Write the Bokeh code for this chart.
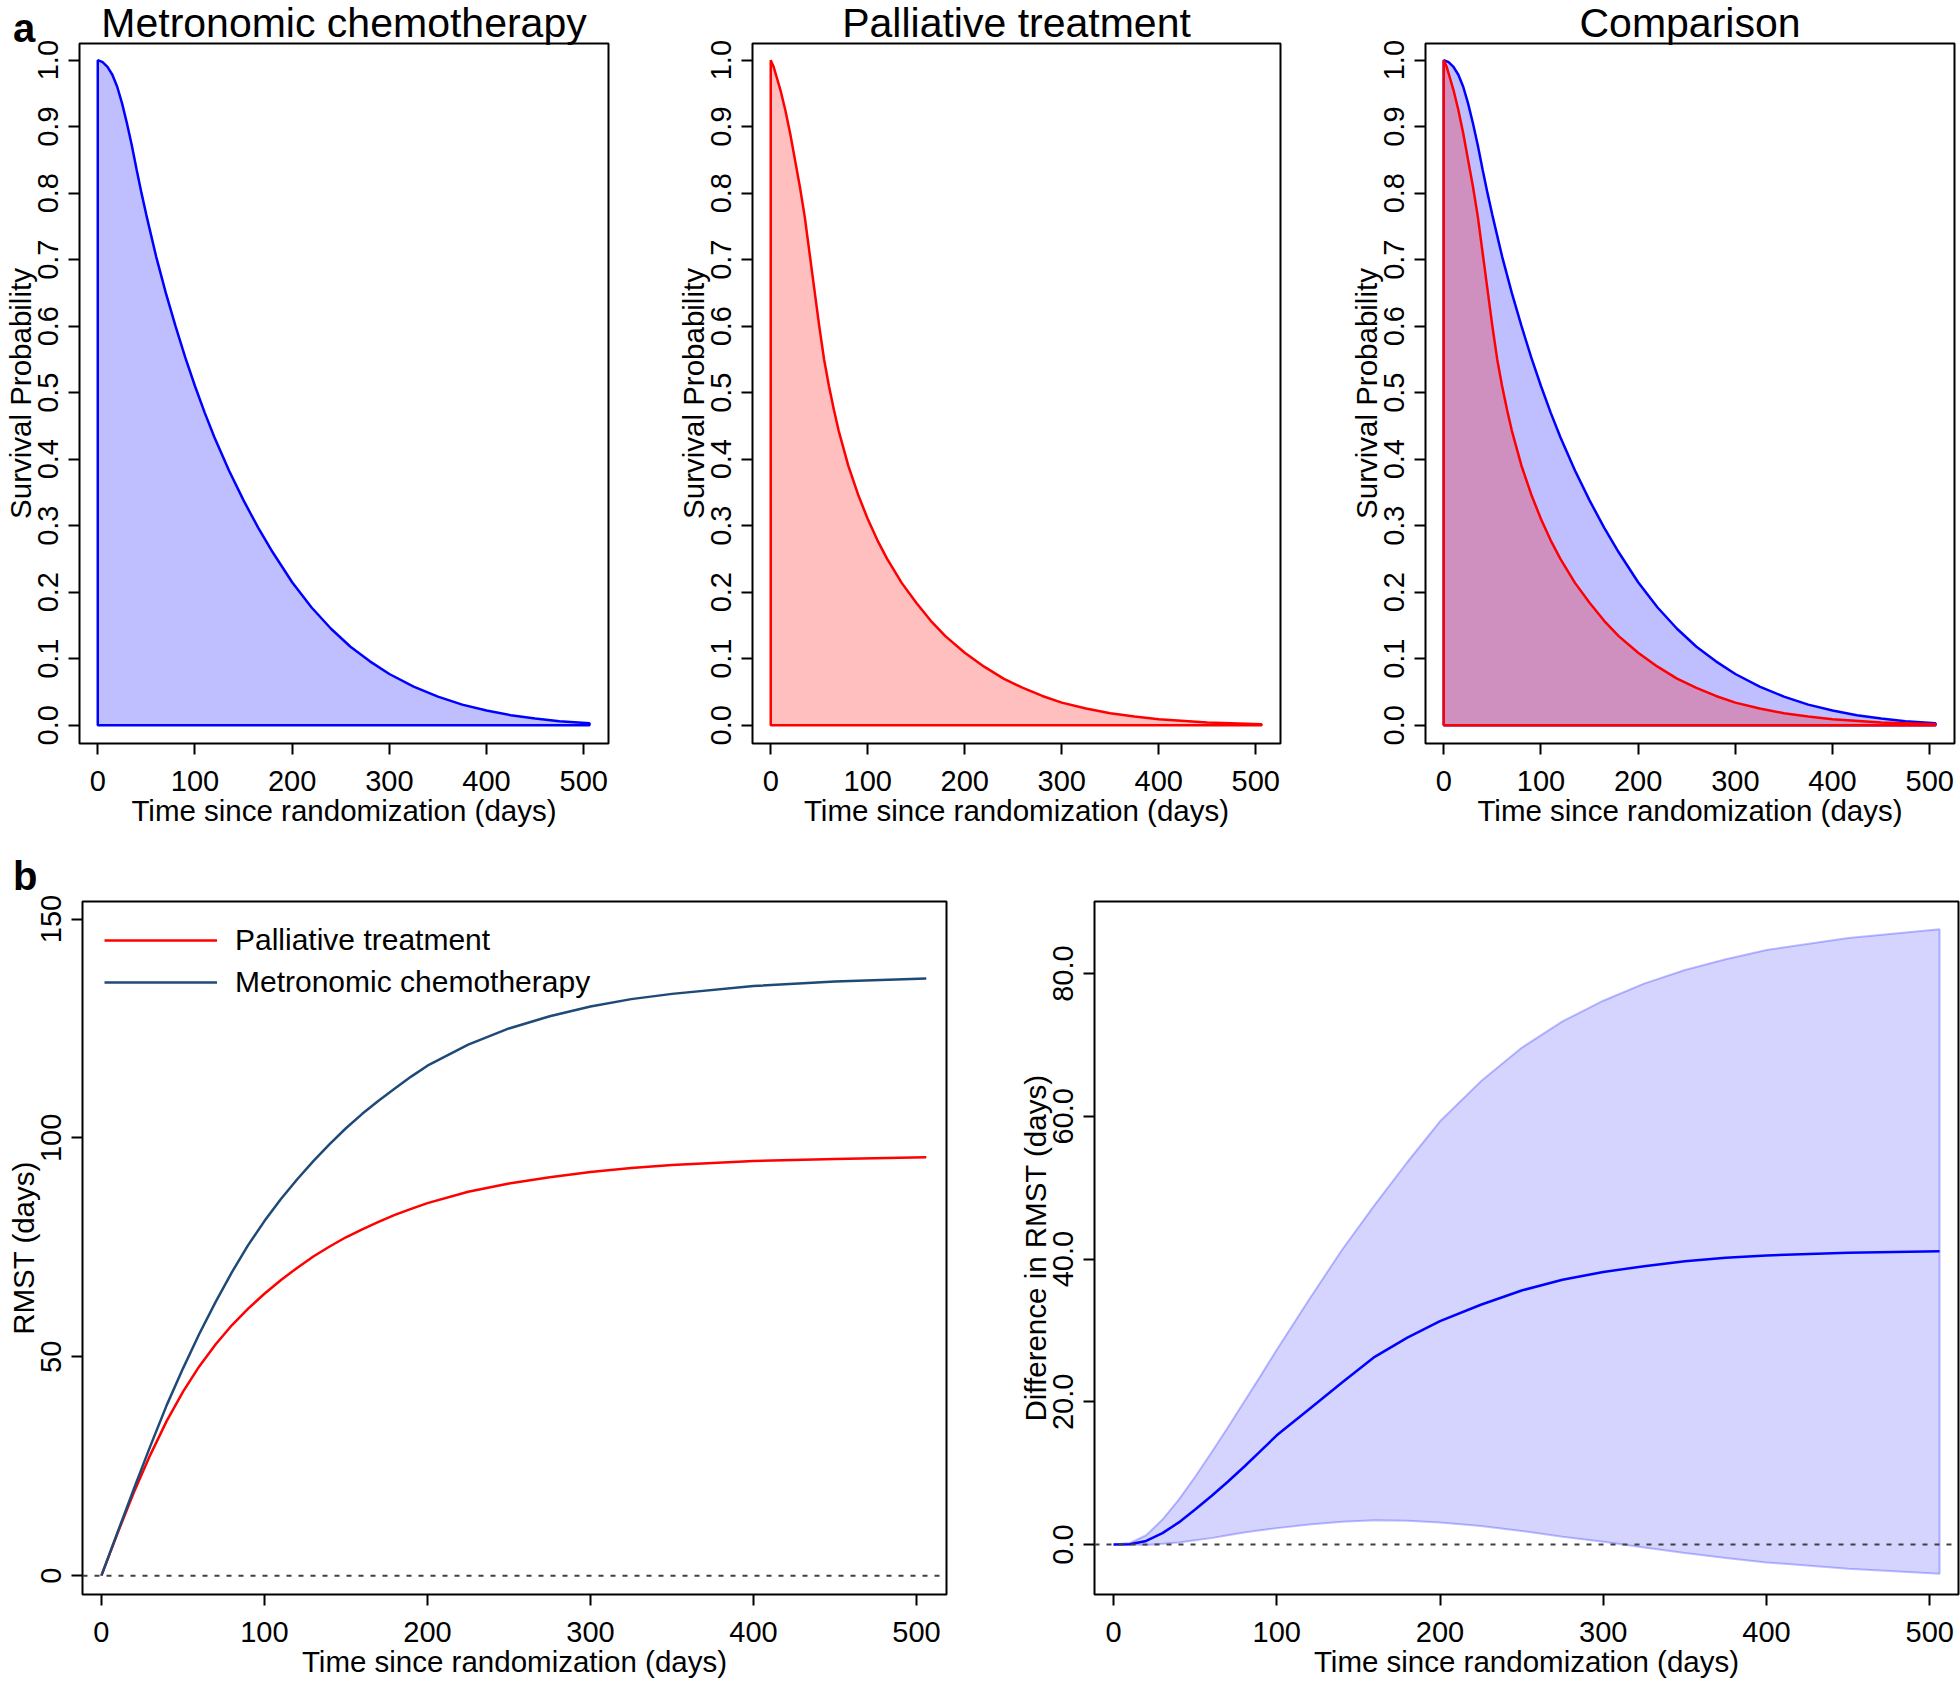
from bokeh.plotting import figure
from bokeh.layouts import column, row
from bokeh.models import (Range1d, FixedTicker, PrintfTickFormatter, Span, Div,
                          Legend, LegendItem)
from bokeh.embed import file_html
from bokeh.resources import INLINE

FONT = "Liberation Sans"
NAVY = "#1F4A78"

# ---------------- data ----------------
x_ticks = [0, 100, 200, 300, 400, 500]
surv_ticks = [0.0, 0.1, 0.2, 0.3, 0.4, 0.5, 0.6, 0.7, 0.8, 0.9, 1.0]
rmst_ticks = [0, 50, 100, 150]
diff_ticks = [0, 20, 40, 60, 80]

t_metro = [0, 5, 10, 15, 20, 25, 30, 35, 40, 45, 50, 60, 70, 80, 90, 100, 110, 120,
           135, 150, 165, 180, 200, 220, 240, 260, 280, 300, 325, 350, 375, 400,
           425, 450, 475, 506]
s_metro = [1.0, 0.997, 0.99, 0.978, 0.96, 0.935, 0.905, 0.872, 0.835, 0.80, 0.767,
           0.705, 0.65, 0.60, 0.553, 0.51, 0.47, 0.433, 0.383, 0.338, 0.297, 0.26,
           0.215, 0.177, 0.145, 0.118, 0.096, 0.077, 0.058, 0.043, 0.031, 0.022,
           0.015, 0.010, 0.006, 0.003]

t_pall = [0, 3, 6, 10, 15, 20, 25, 30, 35, 40, 45, 50, 55, 60, 65, 70, 80, 90, 100,
          110, 120, 135, 150, 165, 180, 200, 220, 240, 260, 280, 300, 325, 350, 375,
          400, 450, 506]
s_pall = [1.0, 0.99, 0.975, 0.955, 0.925, 0.89, 0.85, 0.81, 0.765, 0.71, 0.655, 0.60,
          0.55, 0.51, 0.475, 0.443, 0.39, 0.347, 0.31, 0.278, 0.25, 0.214, 0.184,
          0.157, 0.134, 0.109, 0.088, 0.07, 0.056, 0.044, 0.034, 0.025, 0.018, 0.013,
          0.009, 0.004, 0.0015]

t_rmst = [0, 10, 20, 30, 40, 50, 60, 70, 80, 90, 100, 110, 120, 130, 140, 150, 160,
          170, 180, 190, 200, 225, 250, 275, 300, 325, 350, 400, 450, 506]
rmst_pall = [0, 9.8, 19.1, 27.6, 35.3, 42.0, 47.8, 52.8, 57.2, 61.0, 64.4, 67.5, 70.3,
             72.9, 75.2, 77.3, 79.1, 80.8, 82.4, 83.8, 85.1, 87.7, 89.6, 91.0, 92.2,
             93.1, 93.8, 94.7, 95.2, 95.6]
rmst_metro = [0, 10.0, 19.9, 29.6, 38.9, 47.3, 55.2, 62.5, 69.3, 75.5, 81.0, 86.0,
              90.5, 94.7, 98.6, 102.2, 105.5, 108.5, 111.3, 114.0, 116.5, 121.3,
              125.0, 127.8, 130.0, 131.7, 132.9, 134.7, 135.7, 136.4]

t_diff = [0, 10, 20, 30, 40, 50, 60, 70, 80, 90, 100, 120, 140, 160, 180, 200, 225,
          250, 275, 300, 325, 350, 375, 400, 450, 506]
diff_mean = [0, 0.05, 0.5, 1.6, 3.1, 4.9, 6.8, 8.8, 10.9, 13.1, 15.3, 19.0, 22.7,
             26.3, 29.0, 31.3, 33.6, 35.6, 37.1, 38.2, 39.0, 39.7, 40.2, 40.5, 40.9,
             41.1]
diff_upper = [0, 0.2, 1.3, 3.5, 6.3, 9.5, 12.9, 16.4, 20.0, 23.6, 27.3, 34.4, 41.3,
              47.6, 53.6, 59.3, 64.9, 69.6, 73.3, 76.2, 78.6, 80.5, 82.0, 83.3, 85.0,
              86.2]
diff_lower = [0, 0, -0.05, 0.1, 0.3, 0.6, 0.9, 1.3, 1.7, 2.0, 2.3, 2.8, 3.2, 3.4, 3.35,
              3.1, 2.6, 1.9, 1.1, 0.4, -0.4, -1.2, -1.9, -2.5, -3.4, -4.1]


# ---------------- helpers ----------------
def style(p, xlabel, ylabel, yticks, yfmt):
    p.background_fill_color = "white"
    p.border_fill_color = "white"
    p.outline_line_color = "black"
    p.outline_line_width = 2
    p.outline_line_alpha = 1.0
    p.xgrid.visible = False
    p.ygrid.visible = False
    p.xaxis.ticker = FixedTicker(ticks=x_ticks)
    p.yaxis.ticker = FixedTicker(ticks=yticks)
    p.yaxis.formatter = PrintfTickFormatter(format=yfmt)
    for ax in p.axis:
        ax.axis_line_color = None
        ax.major_tick_out = 11
        ax.major_tick_in = 0
        ax.minor_tick_out = 0
        ax.minor_tick_in = 0
        ax.major_tick_line_width = 2
        ax.major_tick_line_color = "black"
        ax.major_label_text_font = FONT
        ax.major_label_text_font_size = "29px"
        ax.major_label_text_color = "black"
        ax.axis_label_text_font = FONT
        ax.axis_label_text_font_size = "29.5px"
        ax.axis_label_text_font_style = "normal"
        ax.axis_label_text_color = "black"
    p.xaxis.axis_label = xlabel
    p.yaxis.axis_label = ylabel
    p.yaxis.major_label_orientation = "vertical"
    p.xaxis.major_label_standoff = 16
    p.xaxis.axis_label_standoff = 0
    p.yaxis.major_label_standoff = 10
    p.yaxis.axis_label_standoff = -1


def set_title(p, text):
    p.title.text = text
    p.title.text_font = FONT
    p.title.text_font_size = "41px"
    p.title.text_font_style = "normal"
    p.title.text_color = "black"
    p.title.align = "center"
    p.title.standoff = -5


XLAB = "Time since randomization (days)"
SX = (-18.8, 525.5)
SY = (-0.0275, 1.025)


def surv_fig(width, left, right):
    p = figure(width=width, height=840,
               x_range=Range1d(*SX), y_range=Range1d(*SY),
               output_backend="svg", toolbar_location=None,
               min_border_left=left, min_border_right=right,
               min_border_top=43, min_border_bottom=97)
    style(p, XLAB, "Survival Probability", surv_ticks, "%.1f")
    return p


def panel_tag(text, top):
    return Div(text=text, width=40, height=46,
               styles={"position": "absolute", "left": "8px", "top": "%dpx" % top,
                       "font-family": FONT, "font-size": "40px",
                       "font-weight": "bold", "line-height": "40px",
                       "color": "black", "z-index": "10"})


# ---------------- panel a ----------------
p1 = surv_fig(640, 79, 32)
set_title(p1, "Metronomic chemotherapy")
p1.patch([0] + t_metro + [t_metro[-1]], [0] + s_metro + [0],
         fill_color="blue", fill_alpha=0.25, line_color="blue", line_width=2.5)

p2 = surv_fig(672, 112, 32)
set_title(p2, "Palliative treatment")
p2.patch([0] + t_pall + [t_pall[-1]], [0] + s_pall + [0],
         fill_color="red", fill_alpha=0.25, line_color="red", line_width=2.5)

p3 = surv_fig(648, 113, 6)
set_title(p3, "Comparison")
p3.patch([0] + t_metro + [t_metro[-1]], [0] + s_metro + [0],
         fill_color="blue", fill_alpha=0.25, line_color="blue", line_width=2.5)
p3.patch([0] + t_pall + [t_pall[-1]], [0] + s_pall + [0],
         fill_color="red", fill_alpha=0.25, line_color="red", line_width=2.5)

# ---------------- panel b ----------------
p4 = figure(width=990, height=841, x_range=Range1d(-11.6, 518.4),
            y_range=Range1d(-4.3, 154.0), output_backend="svg", toolbar_location=None,
            min_border_left=82, min_border_right=44, min_border_top=61,
            min_border_bottom=87)
style(p4, XLAB, "RMST (days)", rmst_ticks, "%d")
p4.add_layout(Span(location=0, dimension="width", line_color="#404040",
                   line_width=2, line_dash="5 7"))
r_pall = p4.line(t_rmst, rmst_pall, line_color="red", line_width=2.5)
r_metro = p4.line(t_rmst, rmst_metro, line_color=NAVY, line_width=2.5)
leg = Legend(items=[LegendItem(label="Palliative treatment", renderers=[r_pall]),
                    LegendItem(label="Metronomic chemotherapy", renderers=[r_metro])],
             location="top_left", border_line_color=None, background_fill_alpha=0,
             label_text_font=FONT, label_text_font_size="30px",
             label_text_color="black",
             glyph_width=113, glyph_height=34, label_height=34, spacing=8,
             padding=0, margin=22, label_standoff=18)
p4.add_layout(leg)

p5 = figure(width=970, height=841, x_range=Range1d(-11.65, 517.6),
            y_range=Range1d(-7.0, 90.1), output_backend="svg", toolbar_location=None,
            min_border_left=104, min_border_right=2, min_border_top=61,
            min_border_bottom=87)
style(p5, XLAB, "Difference in RMST (days)", diff_ticks, "%.1f")
p5.patch(t_diff + t_diff[::-1], diff_upper + diff_lower[::-1],
         fill_color="blue", fill_alpha=0.17, line_color="blue", line_alpha=0.25,
         line_width=2)
p5.line(t_diff, diff_mean, line_color="blue", line_width=2.5)
p5.add_layout(Span(location=0, dimension="width", line_color="#404040",
                   line_width=2, line_dash="5 7"))

tag_a = panel_tag("a", 3)
tag_b = panel_tag("b", 851)

layout = column(row(p1, p2, p3, spacing=0), row(p4, p5, spacing=0), tag_a, tag_b,
                spacing=0)

open("out.html", "w").write(file_html(layout, INLINE))
